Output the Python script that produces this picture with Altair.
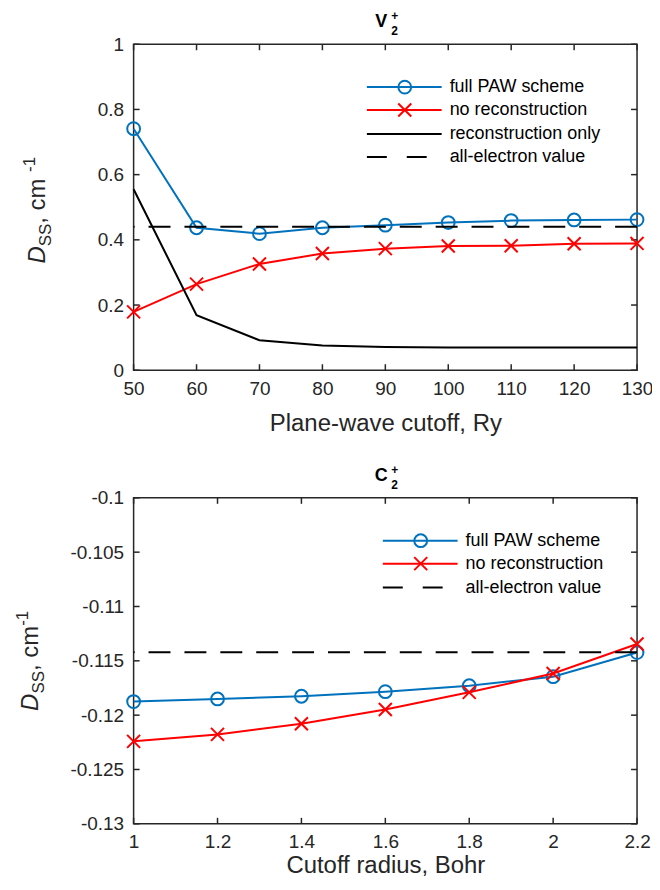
import altair as alt
import pandas as pd

# ---------------- data ----------------
cutoff_ry = [50, 60, 70, 80, 90, 100, 110, 120, 130]
v_full_paw = [0.741, 0.437, 0.419, 0.437, 0.445, 0.453, 0.459, 0.461, 0.462]
v_no_recon = [0.179, 0.264, 0.326, 0.358, 0.373, 0.381, 0.382, 0.388, 0.389]
v_recon_only = [0.555, 0.169, 0.092, 0.076, 0.071, 0.070, 0.070, 0.070, 0.070]
v_all_electron = [0.44]

radius_bohr = [1.0, 1.2, 1.4, 1.6, 1.8, 2.0, 2.2]
c_full_paw = [-0.11875, -0.11851, -0.11826, -0.11784, -0.11729, -0.11646, -0.11424]
c_no_recon = [-0.12241, -0.12177, -0.12079, -0.11948, -0.1179, -0.11616, -0.11345]
c_all_electron = [-0.1142]

v_labels = ["full PAW scheme", "no reconstruction", "reconstruction only", "all-electron value"]
c_labels = ["full PAW scheme", "no reconstruction", "all-electron value"]

v_xticks = [50, 60, 70, 80, 90, 100, 110, 120, 130]
v_yticks = [0, 0.2, 0.4, 0.6, 0.8, 1]
c_xticks = [1, 1.2, 1.4, 1.6, 1.8, 2, 2.2]
c_yticks = [-0.13, -0.125, -0.12, -0.115, -0.11, -0.105, -0.1]

v_xtitle = "Plane-wave cutoff, Ry"
c_xtitle = "Cutoff radius, Bohr"

# ---------------- style ----------------
W, H = 505, 327
FONT = "Liberation Sans"
BLUE = "#0072BD"
RED = "#FF0000"
BLACK = "#000000"
AXC = "#262626"
TICK_FS = 19
TITLE_FS = 24
SUB_FS = 17
LEG_FS = 18
XPATH = "M-1,-1L1,1M-1,1L1,-1"
DASH = [22, 14]

CW = {'D': 0.722, 'S': 0.667, ' ': 0.278, ',': 0.278, 'c': 0.5, 'm': 0.833,
      '-': 0.333, '1': 0.556}


def twidth(s, fs):
    return sum(CW.get(ch, 0.556) for ch in s) * fs


def panel(xv, series, ae, xdom, ydom, xticks, yticks, xtitle, title_pad, ytitle_parts,
          ytitle_x, ytitle_dy, main_letter, legend_rows, leg_x):
    xscale = alt.Scale(domain=xdom, nice=False, zero=False)
    yscale = alt.Scale(domain=ydom, nice=False, zero=False)
    xaxis = alt.Axis(values=xticks, ticks=False, domain=False, grid=False,
                     labelFontSize=TICK_FS, labelFont=FONT, labelColor=AXC,
                     labelPadding=9, labelFlush=False, labelOverlap=False,
                     labelExpr="toString(datum.value)",
                     title=xtitle, titleFont=FONT, titleFontSize=TITLE_FS,
                     titleFontWeight="normal", titleColor=AXC, titlePadding=title_pad)
    yaxis = alt.Axis(values=yticks, ticks=False, domain=False, grid=False,
                     labelFontSize=TICK_FS, labelFont=FONT, labelColor=AXC,
                     labelPadding=10, labelFlush=False, labelOverlap=False,
                     labelExpr="toString(datum.value)", title=None)
    X = alt.X("x:Q", scale=xscale, axis=xaxis)
    Y = alt.Y("y:Q", scale=yscale, axis=yaxis)

    layers = []
    xt = pd.DataFrame({"x": xticks})
    yt = pd.DataFrame({"y": yticks})
    tk = dict(color=AXC, strokeWidth=1.5)
    layers.append(alt.Chart(xt).mark_rule(**tk).encode(x=X, y=alt.value(H - 6), y2=alt.value(H)))
    layers.append(alt.Chart(xt).mark_rule(**tk).encode(x=X, y=alt.value(0), y2=alt.value(6)))
    layers.append(alt.Chart(yt).mark_rule(**tk).encode(y=Y, x=alt.value(0), x2=alt.value(6)))
    layers.append(alt.Chart(yt).mark_rule(**tk).encode(y=Y, x=alt.value(W - 6), x2=alt.value(W)))

    for ys, color, marker in series:
        df = pd.DataFrame({"x": xv, "y": ys})
        layers.append(alt.Chart(df).mark_line(color=color, strokeWidth=2).encode(x=X, y=Y))
        if marker == "o":
            layers.append(alt.Chart(df).mark_point(shape="circle", filled=False, color=color,
                                                   size=165, strokeWidth=2, opacity=1).encode(x=X, y=Y))
        elif marker == "x":
            layers.append(alt.Chart(df).mark_point(shape=XPATH, filled=False, color=color,
                                                   size=170, strokeWidth=2, opacity=1).encode(x=X, y=Y))
    aedf = pd.DataFrame({"y": ae})
    layers.append(alt.Chart(aedf).mark_rule(color=BLACK, strokeWidth=2, strokeDash=DASH).encode(y=Y))

    # legend
    row_y = [43, 66, 90, 113]
    for i, (lab, color, marker, dash) in enumerate(legend_rows):
        ldf = pd.DataFrame({"t": [lab]})
        ry = row_y[i]
        rule_kw = dict(color=color, strokeWidth=2)
        if dash:
            rule_kw["strokeDash"] = [20, 20]
        layers.append(alt.Chart(ldf).mark_rule(**rule_kw).encode(
            x=alt.value(leg_x), x2=alt.value(leg_x + 75), y=alt.value(ry)))
        if marker == "o":
            layers.append(alt.Chart(ldf).mark_point(shape="circle", filled=False, color=color,
                                                    size=165, strokeWidth=2, opacity=1).encode(
                x=alt.value(leg_x + 38), y=alt.value(ry)))
        elif marker == "x":
            layers.append(alt.Chart(ldf).mark_point(shape=XPATH, filled=False, color=color,
                                                    size=170, strokeWidth=2, opacity=1).encode(
                x=alt.value(leg_x + 38), y=alt.value(ry)))
        layers.append(alt.Chart(ldf).mark_text(font=FONT, fontSize=LEG_FS, color=BLACK, align="left",
                                               baseline="middle").encode(
            x=alt.value(leg_x + 83), y=alt.value(ry), text="t:N"))

    # rotated y title built from pieces
    total = sum(twidth(p[0], p[1]) for p in ytitle_parts)
    ystart = H / 2 + total / 2 + ytitle_dy
    cum = 0
    for txt, fs, style, shift in ytitle_parts:
        tdf = pd.DataFrame({"t": [txt]})
        layers.append(alt.Chart(tdf).mark_text(font=FONT, fontSize=fs, fontStyle=style, color=AXC,
                                               angle=270, align="left", baseline="alphabetic").encode(
            x=alt.value(ytitle_x + shift), y=alt.value(ystart - cum), text="t:N"))
        cum += twidth(txt, fs)

    # panel title (letter with stacked sub/superscript)
    for txt, fs, dx, by in [(main_letter, 18, -4, -17), ("+", 12, 6, -24), ("2", 12, 6, -9)]:
        tdf = pd.DataFrame({"t": [txt]})
        layers.append(alt.Chart(tdf).mark_text(font=FONT, fontSize=fs, fontWeight="bold", color=BLACK,
                                               align="center" if txt == main_letter else "left",
                                               baseline="alphabetic").encode(
            x=alt.value(W / 2 + dx), y=alt.value(by), text="t:N"))

    return alt.layer(*layers).properties(width=W, height=H)


top = panel(
    cutoff_ry,
    [(v_full_paw, BLUE, "o"), (v_no_recon, RED, "x"), (v_recon_only, BLACK, None)],
    v_all_electron, [50, 130], [0, 1], v_xticks, v_yticks, v_xtitle, 13,
    [("D", TITLE_FS, "italic", 0), ("SS", SUB_FS, "normal", 6), (" , cm", TITLE_FS, "normal", 0),
     ("-1", SUB_FS, "normal", -10)],
    -89, 3,
    "V",
    [(v_labels[0], BLUE, "o", False), (v_labels[1], RED, "x", False),
     (v_labels[2], BLACK, None, False), (v_labels[3], BLACK, None, True)],
    234,
)

bottom = panel(
    radius_bohr,
    [(c_full_paw, BLUE, "o"), (c_no_recon, RED, "x")],
    c_all_electron, [1, 2.2], [-0.13, -0.1], c_xticks, c_yticks, c_xtitle, 2,
    [("D", TITLE_FS, "italic", 0), ("SS", SUB_FS, "normal", 6), (", cm", TITLE_FS, "normal", 0),
     ("-1", SUB_FS, "normal", -10)],
    -96, 0,
    "C",
    [(c_labels[0], BLUE, "o", False), (c_labels[1], RED, "x", False),
     (c_labels[2], BLACK, None, True)],
    250,
)

chart = alt.vconcat(top, bottom, spacing=128, bounds="flush").properties(
    padding={"left": 5, "top": 0, "right": -2, "bottom": 0},
    background="white",
).configure_view(stroke=AXC, strokeWidth=1.5)

chart.save("out.html", embed_options={"renderer": "svg", "actions": False})
